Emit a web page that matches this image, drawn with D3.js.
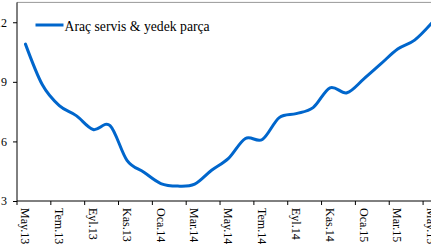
<!DOCTYPE html>
<html>
<head>
<meta charset="utf-8">
<script src="https://cdn.jsdelivr.net/npm/d3@7"></script>
<style>
  html, body { margin: 0; padding: 0; background: #fff; overflow: hidden; }
  svg { display: block; }
</style>
</head>
<body>
<div id="chart"></div>
<script>
const months = ["May.13","Haz.13","Tem.13","Ağu.13","Eyl.13","Eki.13","Kas.13","Ara.13",
  "Oca.14","Şub.14","Mar.14","Nis.14","May.14","Haz.14","Tem.14","Ağu.14","Eyl.14","Eki.14",
  "Kas.14","Ara.14","Oca.15","Şub.15","Mar.15","Nis.15","May.15"];
const values = [10.9, 8.85, 7.8, 7.3, 6.6, 6.8, 5.05, 4.45, 3.88, 3.75, 3.85, 4.55, 5.15,
  6.15, 6.1, 7.2, 7.4, 7.7, 8.7, 8.45, 9.15, 9.9, 10.65, 11.1, 11.95];
const yTicks = [3, 6, 9, 12];
const seriesName = "Araç servis & yedek parça";

const W = 431, H = 252;
const svg = d3.select("#chart").append("svg").attr("width", W).attr("height", H);

const mLeft = 17, mTop = 2.4, mBottom = 201;
const bandW = 16.92;
const x = d3.scaleBand().domain(months).range([mLeft, mLeft + bandW * months.length]).padding(0);
const y = d3.scaleLinear().domain([3, 13]).range([mBottom, mTop]);

const font = "'Liberation Serif', 'Times New Roman', serif";

// top border
svg.append("line").attr("x1", mLeft).attr("x2", W + 20).attr("y1", y(13)).attr("y2", y(13))
  .attr("stroke", "#999").attr("stroke-width", 1);

// Y axis
const yAxis = d3.axisLeft(y).tickValues(yTicks).tickSize(4).tickPadding(6).tickFormat(d3.format("d"));
const gy = svg.append("g").attr("transform", `translate(${mLeft},0)`).call(yAxis);
gy.select(".domain").attr("stroke", "#000").attr("d", `M0,${y(13)}V${mBottom}`);
gy.selectAll(".tick line").attr("stroke", "#000");
gy.selectAll("text").attr("font-family", font).attr("font-size", 12).attr("fill", "#000");

// X axis
const labelMonths = months.filter((d, i) => i % 2 === 0);
const xAxis = d3.axisBottom(x).tickValues(labelMonths).tickSize(0).tickPadding(0);
const gx = svg.append("g").attr("transform", `translate(0,${mBottom})`).call(xAxis);
gx.select(".domain").attr("stroke", "#000").attr("d", `M${mLeft},0H${W + 20}`);
gx.selectAll(".tick text")
  .attr("font-family", font).attr("font-size", 12).attr("fill", "#000")
  .attr("text-anchor", "start")
  .attr("transform", "translate(0,7) rotate(90)")
  .attr("x", 0).attr("y", 0).attr("dy", "0.35em");
// tick marks at category boundaries every 2 months
gx.selectAll(".bnd").data(labelMonths).enter().append("line")
  .attr("x1", d => x(d)).attr("x2", d => x(d)).attr("y1", 0).attr("y2", 4)
  .attr("stroke", "#000");

// line
const line = d3.line()
  .x((d, i) => x(months[i]) + x.bandwidth() / 2)
  .y(d => y(d))
  .curve(d3.curveCardinal.tension(0));
svg.append("path").datum(values).attr("d", line)
  .attr("fill", "none").attr("stroke", "#0066CC").attr("stroke-width", 3)
  .attr("stroke-linejoin", "round").attr("stroke-linecap", "round");

// legend
const lg = svg.append("g");
lg.append("line").attr("x1", 35.5).attr("x2", 63.5).attr("y1", 25).attr("y2", 25)
  .attr("stroke", "#0066CC").attr("stroke-width", 3);
lg.append("text").attr("x", 64.5).attr("y", 30.5).text(seriesName)
  .attr("font-family", font).attr("font-size", 13.7).attr("fill", "#000");
</script>
</body>
</html>
